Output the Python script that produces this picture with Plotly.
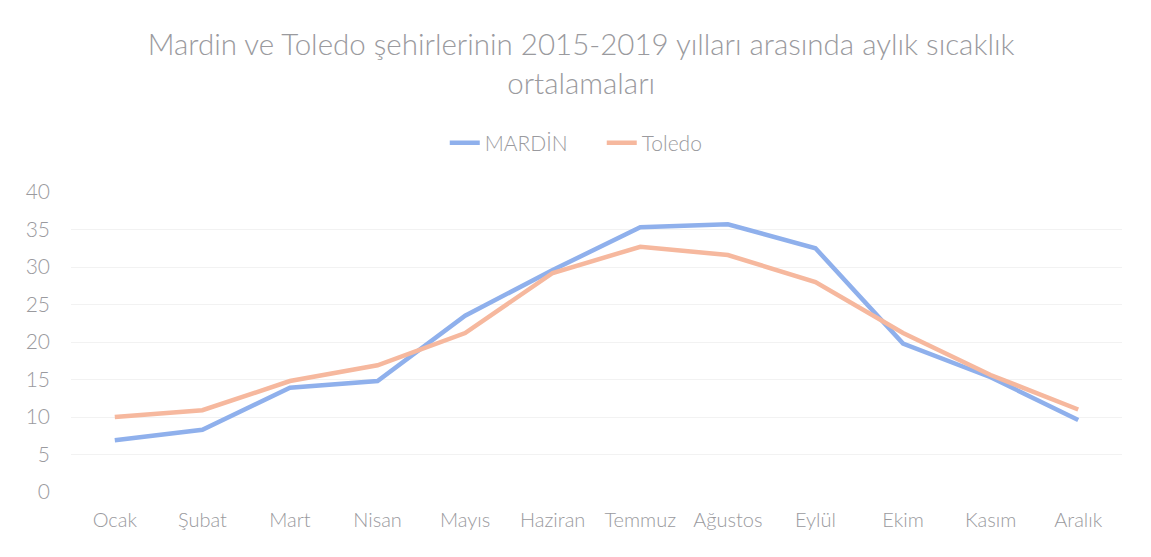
import plotly.graph_objects as go

months = ["Ocak", "Şubat", "Mart", "Nisan", "Mayıs", "Haziran", "Temmuz",
          "Ağustos", "Eylül", "Ekim", "Kasım", "Aralık"]
mardin = [6.9, 8.3, 13.9, 14.8, 23.5, 29.6, 35.3, 35.7, 32.5, 19.8, 15.3, 9.6]
toledo = [10.0, 10.9, 14.8, 16.9, 21.2, 29.2, 32.7, 31.6, 28.0, 21.2, 15.6, 11.0]
yticks = [0, 5, 10, 15, 20, 25, 30, 35, 40]

FONT = "Lato"
TXT = "#9a9a9e"

fig = go.Figure()
fig.add_trace(go.Scatter(x=months, y=mardin, mode="lines", name="MARDİN",
                         line=dict(color="#8fb0ec", width=4.5)))
fig.add_trace(go.Scatter(x=months, y=toledo, mode="lines", name="Toledo",
                         line=dict(color="#f6b89e", width=4.5)))

# page body has an 8px margin; compensate in figure coordinates
fig.update_layout(
    width=1151, height=557,
    paper_bgcolor="white", plot_bgcolor="white",
    margin=dict(l=63, r=37, t=184, b=73, autoexpand=False),
    font=dict(family=FONT, color=TXT, size=20),
    title=dict(text="Mardin ve Toledo şehirlerinin 2015-2019 yılları arasında aylık sıcaklık<br>ortalamaları",
               x=0.498, xanchor="center", y=0.915, yanchor="middle",
               font=dict(family=FONT, size=29.5, color=TXT, weight=300)),
    legend=dict(orientation="h", x=0.505, xanchor="center", y=1.163, yanchor="middle",
                font=dict(family=FONT, size=21, color=TXT, weight=300),
                entrywidth=112, tracegroupgap=0),
    showlegend=True,
)
fig.update_xaxes(type="category", range=[-0.5, 11.5], showgrid=False, showline=False,
                 ticks="", tickfont=dict(size=20, color=TXT, weight=300),
                 ticklabelstandoff=14, automargin=False)
fig.update_yaxes(range=[0, 40], tickvals=yticks, showgrid=True, gridcolor="#f2f2f2",
                 gridwidth=1, zeroline=False, showline=False, ticks="",
                 tickfont=dict(size=21, color=TXT, weight=300),
                 ticklabelstandoff=20, automargin=False)

fig.write_html("out.html")
